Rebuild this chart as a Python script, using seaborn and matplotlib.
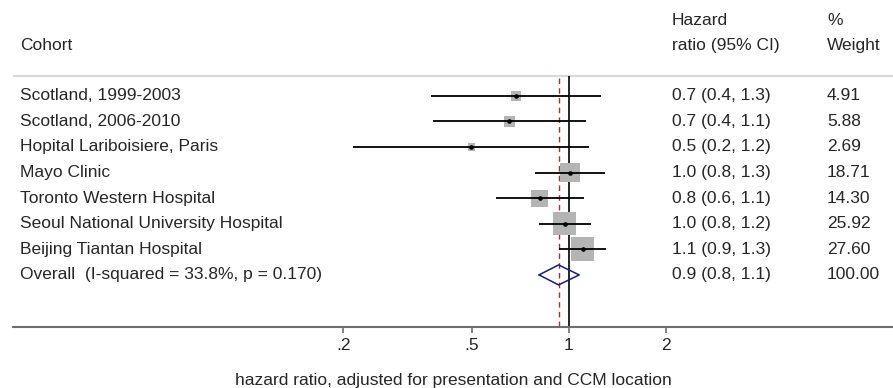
import numpy as np
import pandas as pd
import matplotlib
matplotlib.use("Agg")
import matplotlib.pyplot as plt
import matplotlib.transforms as mtransforms
import seaborn as sns

# study-level data
cohorts = ["Scotland, 1999-2003", "Scotland, 2006-2010", "Hopital Lariboisiere, Paris",
           "Mayo Clinic", "Toronto Western Hospital", "Seoul National University Hospital",
           "Beijing Tiantan Hospital"]
hr = [0.688, 0.654, 0.499, 1.01, 0.814, 0.974, 1.105]
ci_low = [0.375, 0.379, 0.215, 0.784, 0.596, 0.81, 0.931]
ci_high = [1.26, 1.13, 1.156, 1.30, 1.113, 1.176, 1.31]
weights = [4.91, 5.88, 2.69, 18.71, 14.30, 25.92, 27.60]
hr_text = ["0.7 (0.4, 1.3)", "0.7 (0.4, 1.1)", "0.5 (0.2, 1.2)", "1.0 (0.8, 1.3)",
           "0.8 (0.6, 1.1)", "1.0 (0.8, 1.2)", "1.1 (0.9, 1.3)"]
weight_text = ["4.91", "5.88", "2.69", "18.71", "14.30", "25.92", "27.60"]

overall_label = "Overall  (I-squared = 33.8%, p = 0.170)"
overall_hr = 0.931
overall_low = 0.81
overall_high = 1.079
overall_hr_text = "0.9 (0.8, 1.1)"
overall_weight_text = "100.00"

tick_vals = [0.2, 0.5, 1, 2]
tick_labels = [".2", ".5", "1", "2"]
xlabel = "hazard ratio, adjusted for presentation and CCM location"

df = pd.DataFrame({"cohort": cohorts, "hr": hr, "lo": ci_low, "hi": ci_high,
                   "weight": weights, "row": np.arange(1, len(cohorts) + 1)})
overall_row = len(cohorts) + 1

sns.set_style("white")
plt.rcParams["font.family"] = ["Liberation Sans", "DejaVu Sans"]
fs = 12.5

fig = plt.figure(figsize=(8.93, 3.88), dpi=100)
ax = fig.add_axes([13 / 893, 61 / 388, 880 / 893, 327 / 388])
ax.set_xscale("log")
ax.set_xlim(0.0189, 10.15)
ax.set_ylim(10.035, -2.74)

# reference lines
ax.vlines(1, 0.23, 10.035, color="black", lw=1.2, zorder=1)
ax.vlines(overall_hr, 0.3, 10.035, color="#c0262b", lw=1.0,
          linestyles=(0, (4, 3)), zorder=1)

# weight boxes (area proportional to weight)
k = (4.5 * 0.72) ** 2
sns.scatterplot(data=df, x="hr", y="row", size="weight", marker="s",
                sizes=(k * min(weights), k * max(weights)),
                size_norm=(min(weights), max(weights)),
                color="#b4b4b4", linewidth=0, legend=False, ax=ax, zorder=2)
ax.hlines(df["row"], df["lo"], df["hi"], color="black", lw=1.3, zorder=3)
sns.scatterplot(data=df, x="hr", y="row", marker="o", s=11, color="black",
                linewidth=0, legend=False, ax=ax, zorder=4)

# pooled estimate diamond
h = 0.39
ax.plot([overall_low, overall_hr, overall_high, overall_hr, overall_low],
        [overall_row, overall_row - h, overall_row, overall_row + h, overall_row],
        color="#1a1a80", lw=1.1, zorder=4)

# header separator
ax.axhline(0.23, color="#d9d9d9", lw=1.5, zorder=0)

# text columns
tr = mtransforms.blended_transform_factory(fig.transFigure, ax.transData)
x_name, x_hr, x_w = 20 / 893, 672 / 893, 827 / 893
ax.text(x_name, -0.98, "Cohort", transform=tr, fontsize=fs, va="center")
ax.text(x_hr, -1.92, "Hazard", transform=tr, fontsize=fs, va="center")
ax.text(x_hr, -0.98, "ratio (95% CI)", transform=tr, fontsize=fs, va="center")
ax.text(x_w, -1.92, "%", transform=tr, fontsize=fs, va="center")
ax.text(x_w, -0.98, "Weight", transform=tr, fontsize=fs, va="center")
for r, name, t, w in zip(df["row"], cohorts, hr_text, weight_text):
    ax.text(x_name, r, name, transform=tr, fontsize=fs, va="center")
    ax.text(x_hr, r, t, transform=tr, fontsize=fs, va="center")
    ax.text(x_w, r, w, transform=tr, fontsize=fs, va="center")
ax.text(x_name, overall_row, overall_label, transform=tr, fontsize=fs, va="center")
ax.text(x_hr, overall_row, overall_hr_text, transform=tr, fontsize=fs, va="center")
ax.text(x_w, overall_row, overall_weight_text, transform=tr, fontsize=fs, va="center")

# axis styling
for side in ["top", "left", "right"]:
    ax.spines[side].set_visible(False)
ax.spines["bottom"].set_color("#6e6e6e")
ax.spines["bottom"].set_linewidth(1.5)
ax.set_xticks(tick_vals)
ax.set_xticklabels(tick_labels, fontsize=fs)
ax.xaxis.set_minor_locator(matplotlib.ticker.NullLocator())
ax.tick_params(axis="x", which="major", direction="out", length=4, width=1.2,
               color="#6e6e6e", pad=4, bottom=True)
ax.set_yticks([])
ax.set_xlabel(xlabel, fontsize=fs, labelpad=14)
ax.set_ylabel("")

fig.savefig("out.png", dpi=100)
